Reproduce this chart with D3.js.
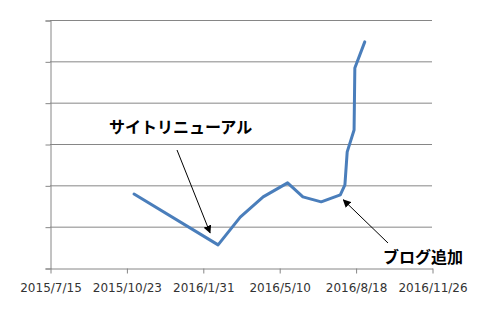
<!DOCTYPE html>
<html>
<head>
<meta charset="utf-8">
<script src="https://cdn.jsdelivr.net/npm/d3@7"></script>
<style>
body { margin: 0; background: #fff; }
</style>
</head>
<body>
<div id="chart"></div>
<script>
// data points
var dates = ["2015-11-02", "2016-02-20", "2016-03-20", "2016-04-19", "2016-05-21",
             "2016-06-10", "2016-07-04", "2016-07-29", "2016-08-04", "2016-08-07",
             "2016-08-16", "2016-08-17", "2016-08-30"];
var values = [17.9, 5.6, 12.3, 17.2, 20.6, 17.2, 16.0, 17.7, 20.1, 28.1, 33.4, 48.4, 54.7];
var tickDates = ["2015-07-15", "2015-10-23", "2016-01-31", "2016-05-10", "2016-08-18", "2016-11-26"];
var yTicks = [0, 10, 20, 30, 40, 50, 60];

var parse = d3.utcParse("%Y-%m-%d");
var fmt = function (d) {
    return d.getUTCFullYear() + "/" + (d.getUTCMonth() + 1) + "/" + d.getUTCDate();
};

var width = 480, height = 320;
var margin = {left: 50, right: 48, top: 20, bottom: 52};

var svg = d3.select("#chart").append("svg")
    .attr("width", width)
    .attr("height", height);

var x = d3.scaleUtc()
    .domain([parse(tickDates[0]), parse(tickDates[tickDates.length - 1])])
    .range([margin.left, width - margin.right]);

var y = d3.scaleLinear()
    .domain([0, 60])
    .range([height - margin.bottom, margin.top]);

//Gridlines
svg.append("g")
    .selectAll("line")
    .data(yTicks.slice(1))
    .enter().append("line")
    .attr("x1", margin.left)
    .attr("x2", width - margin.right)
    .attr("y1", function (d) { return y(d) + 0.5; })
    .attr("y2", function (d) { return y(d) + 0.5; })
    .attr("stroke", "#868686")
    .attr("stroke-width", 1);

//Y axis, no labels
var yAxis = svg.append("g")
    .attr("transform", "translate(" + (margin.left + 0.5) + ",0.5)")
    .call(d3.axisLeft(y).tickValues(yTicks).tickSize(5).tickFormat(""));
yAxis.selectAll("line, path").attr("stroke", "#868686");

//X axis
var xAxis = svg.append("g")
    .attr("transform", "translate(0.5," + (y(0) + 0.5) + ")")
    .call(d3.axisBottom(x)
        .tickValues(tickDates.map(parse))
        .tickSize(5)
        .tickSizeOuter(0)
        .tickFormat(fmt));
xAxis.selectAll("line, path").attr("stroke", "#868686");
xAxis.selectAll("text")
    .attr("dy", "1.3em")
    .attr("font-family", "DejaVu Sans, sans-serif")
    .attr("font-size", "12px")
    .attr("fill", "#333");

var points = dates.map(function (d, i) { return {date: parse(d), value: values[i]}; });

var line = d3.line()
    .x(function (d) { return x(d.date); })
    .y(function (d) { return y(d.value); });

svg.append("path")
    .datum(points)
    .attr("d", line)
    .attr("fill", "none")
    .attr("stroke", "#4a7ebb")
    .attr("stroke-width", 3)
    .attr("stroke-linejoin", "round")
    .attr("stroke-linecap", "round");

//Annotations
var defs = svg.append("defs");
defs.append("marker")
    .attr("id", "arrow")
    .attr("viewBox", "0 0 10 10")
    .attr("refX", 9)
    .attr("refY", 5)
    .attr("markerWidth", 8)
    .attr("markerHeight", 8)
    .attr("markerUnits", "userSpaceOnUse")
    .attr("orient", "auto")
    .append("path")
    .attr("d", "M0,0 L10,5 L0,10 z")
    .attr("fill", "#000");

var renewal = points[1], blog = points[7];

svg.append("line")
    .attr("x1", 177).attr("y1", 150)
    .attr("x2", x(renewal.date) - 8).attr("y2", y(renewal.value) - 12)
    .attr("stroke", "#000")
    .attr("stroke-width", 1)
    .attr("marker-end", "url(#arrow)");

svg.append("line")
    .attr("x1", 388).attr("y1", 243)
    .attr("x2", x(blog.date) + 3).attr("y2", y(blog.value) + 5)
    .attr("stroke", "#000")
    .attr("stroke-width", 1)
    .attr("marker-end", "url(#arrow)");

svg.append("text")
    .attr("x", 109)
    .attr("y", 133)
    .attr("font-family", "Noto Sans CJK JP, sans-serif")
    .attr("font-weight", "bold")
    .attr("font-size", "16px")
    .attr("fill", "#000")
    .text("サイトリニューアル");

svg.append("text")
    .attr("x", 383)
    .attr("y", 263)
    .attr("font-family", "Noto Sans CJK JP, sans-serif")
    .attr("font-weight", "bold")
    .attr("font-size", "16px")
    .attr("fill", "#000")
    .text("ブログ追加");
</script>
</body>
</html>
